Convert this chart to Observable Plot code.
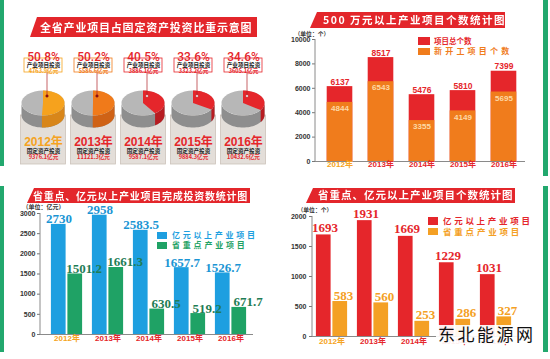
<!DOCTYPE html>
<html><head><meta charset="utf-8">
<script src="https://cdn.jsdelivr.net/npm/d3@7"></script>
<script src="https://cdn.jsdelivr.net/npm/@observablehq/plot@0.6"></script>
<style>
html,body{margin:0;padding:0;background:#fff;}
#root{position:relative;width:550px;height:359px;overflow:hidden;background:#fff;font-family:"Noto Sans CJK SC","Liberation Sans",sans-serif;}
.panel{position:absolute;}
.panel svg{display:block;overflow:visible;}
.banner{position:absolute;background:#e3262b;color:#fff;font-weight:bold;white-space:nowrap;display:flex;align-items:center;box-sizing:border-box;line-height:1;}
.lg{position:absolute;font-weight:bold;white-space:nowrap;line-height:1;}
.sw{position:absolute;}
.stripe{position:absolute;background:#22a86e;}
#wm{position:absolute;left:436px;top:325px;font-size:17px;letter-spacing:2.5px;color:#111;background:rgba(255,255,255,0.92);padding:0 2px;line-height:1.1;font-family:"Noto Sans CJK SC",sans-serif;}
</style></head><body><div id="root"></div>
<script>
// ---------- data ----------
const years = ["2012","2013","2014","2015","2016"];
const shares = [50.8, 50.2, 40.5, 33.6, 34.6];
const industryInvest = ["4763.9","5586.6","3886.1","3323.2","3605.1"];
const fixedInvest = ["9376.1","11121.3","9587.1","9884.3","10432.6"];
const totalProjects = [6137, 8517, 5476, 5810, 7399];
const newProjects = [4844, 6543, 3355, 4149, 5695];
const investBig = [2730, 2958, 2583.5, 1657.7, 1526.7];
const investKey = [1501.2, 1661.3, 630.5, 519.2, 671.7];
const countBig = [1693, 1931, 1669, 1229, 1031];
const countKey = [583, 560, 253, 286, 327];
const ticks2 = [0, 2000, 4000, 6000, 8000, 10000];
const ticks3 = [0, 500, 1000, 1500, 2000, 2500, 3000];
const ticks4 = [0, 500, 1000, 1500, 2000];

// ---------- style ----------
const RED = "#e5262b", ORANGE = "#f07c1c", YEL = "#f5a322", BLUE = "#1e9fe0", GREEN = "#1fa265", ORANGE4 = "#f4a024";
const sliceColors = ["#f6a21d", "#f07a1a", RED, RED, RED];
const sideColors = ["#d8861a", "#cf6216", "#b71c21", "#b71c21", "#b71c21"];
const yearColor = y => y === "2012" ? YEL : RED;
const NUM = "Liberation Sans, Noto Sans CJK SC, sans-serif";
const CJK = "Noto Sans CJK SC, sans-serif";
const SERIF = "Liberation Serif, DejaVu Serif, serif";

const root = document.getElementById("root");
function add(el, left, top) { const w = document.createElement("div"); w.className = "panel"; w.style.left = left + "px"; w.style.top = top + "px"; w.appendChild(el); root.appendChild(w); }
function div(cls, css, html) { const d = document.createElement("div"); d.className = cls; Object.assign(d.style, css); if (html != null) d.textContent = html; root.appendChild(d); return d; }
function axisLine(index, scales, values, dims) {
  return d3.create("svg:line").attr("x1", dims.marginLeft).attr("x2", dims.marginLeft)
    .attr("y1", dims.marginTop).attr("y2", dims.height - dims.marginBottom)
    .attr("stroke", "#8a8a8a").attr("stroke-width", 1).node();
}

// ---------- panel 1: pies ----------
const pieRows = years.map((y, i) => ({year: y, share: shares[i], invest: industryInvest[i], fixed: fixedInvest[i], color: sliceColors[i], side: sideColors[i]}));
function pies(index, scales, values, dims) {
  const x = scales.x;
  const bw = x.bandwidth ? x.bandwidth() : 0;
  const g = d3.create("svg:g");
  for (const d of pieRows) {
    const cx = x(d.year) + bw / 2, cy = 103, rx = 21.5, ry = 12.5, depth = 12;
    const P = (a, dy = 0) => [cx + rx * Math.sin(a), cy - ry * Math.cos(a) + dy];
    const arcPts = (a0, a1, dy = 0) => { const n = 40, pts = []; for (let k = 0; k <= n; k++) pts.push(P(a0 + (a1 - a0) * k / n, dy)); return pts; };
    const side = (a0, a1) => "M" + arcPts(a0, a1).concat(arcPts(a1, a0, depth)).map(p => p.join(",")).join("L") + "Z";
    const theta = d.share / 100 * 2 * Math.PI;
    g.append("rect").attr("x", cx - 22.5).attr("y", 115).attr("width", 45).attr("height", 49)
      .attr("fill", "#e3ded9").attr("stroke", "#cbc2ba").attr("stroke-width", 0.8);
    g.append("path").attr("d", side(Math.PI / 2, 3 * Math.PI / 2)).attr("fill", "#8e8e8e");
    if (theta > Math.PI / 2) g.append("path").attr("d", side(Math.PI / 2, Math.min(theta, 3 * Math.PI / 2))).attr("fill", d.side);
    g.append("ellipse").attr("cx", cx).attr("cy", cy).attr("rx", rx).attr("ry", ry).attr("fill", "#b7b7b7");
    g.append("path").attr("d", "M" + cx + "," + cy + "L" + arcPts(0, theta).map(p => p.join(",")).join("L") + "Z").attr("fill", d.color);
    const lx = cx + 4;
    g.append("line").attr("x1", lx).attr("x2", lx).attr("y1", 72).attr("y2", 96).attr("stroke", "#b02025").attr("stroke-width", 0.7);
    g.append("circle").attr("cx", lx).attr("cy", 96).attr("r", 1.3).attr("fill", d.share > 45 ? "#8a1010" : "#fff").attr("stroke", "#8a1010").attr("stroke-width", 0.4);
    g.append("rect").attr("x", cx - 19).attr("y", 58).attr("width", 38).attr("height", 14)
      .attr("fill", "#fff").attr("stroke", d.color).attr("stroke-width", 0.8);
  }
  return g.node();
}
const p1 = Plot.plot({
  width: 275, height: 180, margin: 0,
  x: {type: "band", domain: years, range: [18, 268], padding: 0, axis: null},
  style: {background: "transparent", overflow: "visible"},
  marks: [
    pies,
    Plot.text(pieRows, {x: "year", frameAnchor: "top", dy: 52, text: d => d.share.toFixed(1) + "%", fill: RED, fontSize: 12, fontWeight: 500, fontFamily: "Roboto, Liberation Sans, sans-serif"}),
    Plot.text(pieRows, {x: "year", frameAnchor: "top", dy: 62.5, text: () => "产业项目投资", fill: "#222", fontSize: 5.6, fontWeight: "bold", fontFamily: CJK}),
    Plot.text(pieRows, {x: "year", frameAnchor: "top", dy: 68.3, text: d => d.invest + "亿元", fill: d => d.color, fontSize: 5.6, fontWeight: "bold", fontFamily: CJK}),
    Plot.text(pieRows, {x: "year", frameAnchor: "top", dy: 136.5, text: d => d.year + "年", fill: d => yearColor(d.year), fontSize: 12, fontWeight: "bold", fontFamily: NUM}),
    Plot.text(pieRows, {x: "year", frameAnchor: "top", dy: 148.5, text: () => "固定资产投资", fill: "#222", fontSize: 5.6, fontWeight: "bold", fontFamily: CJK}),
    Plot.text(pieRows, {x: "year", frameAnchor: "top", dy: 155, text: d => d.fixed + "亿元", fill: RED, fontSize: 5.6, fontWeight: "bold", fontFamily: CJK})
  ]
});
add(p1, 0, 0);

// ---------- panel 2: project counts ----------
const rows2 = years.map((y, i) => ({year: y, total: totalProjects[i], fresh: newProjects[i]}));
const p2 = Plot.plot({
  width: 275, height: 180, marginLeft: 40, marginTop: 39, marginBottom: 19, marginRight: 25,
  x: {type: "band", domain: years, range: [43, 250], padding: 0, axis: null},
  y: {domain: [0, 10000], axis: null},
  style: {background: "transparent", overflow: "visible"},
  marks: [
    Plot.axisY({ticks: ticks2, tickSize: 3, tickPadding: 2, fontSize: 7, fontWeight: "bold", fill: "#333", stroke: "#777", label: null, tickFormat: d => String(d), fontFamily: NUM}),
    Plot.barY(rows2, {x: "year", y: "total", fill: RED, insetLeft: 7.7, insetRight: 7.7}),
    Plot.barY(rows2, {x: "year", y: "fresh", fill: ORANGE, insetLeft: 7.7, insetRight: 7.7}),
    axisLine,
    Plot.ruleY([0], {stroke: "#8a8a8a"}),
    Plot.text(rows2, {x: "year", y: "total", text: d => String(d.total), lineAnchor: "bottom", dy: -2, fill: RED, fontSize: 8.5, fontWeight: "bold", fontFamily: NUM}),
    Plot.text(rows2, {x: "year", y: "fresh", text: d => String(d.fresh), lineAnchor: "top", dy: 3, fill: "#fdd9a6", fontSize: 8, fontWeight: "bold", fontFamily: NUM}),
    Plot.text(rows2, {x: "year", frameAnchor: "bottom", dy: 5, text: d => d.year + "年", fill: d => yearColor(d.year), fontSize: 8, fontWeight: "bold", fontFamily: NUM}),
    Plot.text(["（单位：个）"], {frameAnchor: "top-left", dx: -21, dy: -8, text: d => d, textAnchor: "start", fontSize: 5.8, fontWeight: "bold", fill: "#333", fontFamily: CJK})
  ]
});
add(p2, 275, 0);

// ---------- panel 3: investment ----------
const rows3 = years.map((y, i) => ({year: y, big: investBig[i], key: investKey[i]}));
const p3 = Plot.plot({
  width: 275, height: 179, marginLeft: 40, marginTop: 33, marginBottom: 25, marginRight: 22,
  x: {type: "band", domain: years, range: [44, 253], padding: 0, axis: null},
  y: {domain: [0, 3000], axis: null},
  style: {background: "transparent", overflow: "visible"},
  marks: [
    Plot.axisY({ticks: ticks3, tickSize: 3, tickPadding: 2, fontSize: 7, fontWeight: "bold", fill: "#333", stroke: "#777", label: null, tickFormat: d => String(d), fontFamily: NUM}),
    Plot.barY(rows3, {x: "year", y: "big", fill: BLUE, insetLeft: 4.9, insetRight: 21.4}),
    Plot.barY(rows3, {x: "year", y: "key", fill: GREEN, insetLeft: 21.4, insetRight: 4.9}),
    axisLine,
    Plot.ruleY([0], {stroke: "#8a8a8a"}),
    Plot.text(rows3, {x: "year", y: "big", text: d => String(d.big), dx: -8, lineAnchor: "bottom", dy: -1, fill: "#1b95d4", fontSize: 13, fontWeight: "bold", fontFamily: SERIF, letterSpacing: 0.8}),
    Plot.text(rows3, {x: "year", y: "key", text: d => String(d.key), dx: 17, lineAnchor: "bottom", dy: -1, fill: "#1f7d56", fontSize: 13, fontWeight: "bold", fontFamily: SERIF, letterSpacing: 0.8}),
    Plot.text(rows3, {x: "year", frameAnchor: "bottom", dy: 6, text: d => d.year + "年", fill: d => yearColor(d.year), fontSize: 8, fontWeight: "bold", fontFamily: NUM}),
    Plot.text(["（单位：亿元）"], {frameAnchor: "top-left", dx: -18, dy: -9, text: d => d, textAnchor: "start", fontSize: 6, fontWeight: "bold", fill: "#333", fontFamily: CJK})
  ]
});
add(p3, 0, 180);

// ---------- panel 4: project numbers ----------
const rows4 = years.map((y, i) => ({year: y, big: countBig[i], key: countKey[i]}));
const p4 = Plot.plot({
  width: 275, height: 179, marginLeft: 37, marginTop: 36, marginBottom: 23, marginRight: 28,
  x: {type: "band", domain: years, range: [34, 243], padding: 0, axis: null},
  y: {domain: [0, 2000], axis: null},
  style: {background: "transparent", overflow: "visible"},
  marks: [
    Plot.axisY({ticks: ticks4, tickSize: 3, tickPadding: 3, fontSize: 7, fontWeight: "bold", fill: "#333", stroke: "#777", label: null, tickFormat: d => String(d), fontFamily: NUM}),
    Plot.barY(rows4, {x: "year", y: "big", fill: RED, insetLeft: 4.9, insetRight: 21.4}),
    Plot.barY(rows4, {x: "year", y: "key", fill: ORANGE4, insetLeft: 21.4, insetRight: 4.9}),
    axisLine,
    Plot.ruleY([0], {stroke: "#8a8a8a"}),
    Plot.text(rows4, {x: "year", y: "big", text: d => String(d.big), dx: -7, lineAnchor: "bottom", dy: -3, fill: RED, fontSize: 13, fontWeight: "bold", fontFamily: SERIF, letterSpacing: 0.8}),
    Plot.text(rows4, {x: "year", y: "key", text: d => String(d.key), dx: 11.5, lineAnchor: "bottom", dy: -2, fill: ORANGE4, fontSize: 13, fontWeight: "bold", fontFamily: SERIF, letterSpacing: 0.8}),
    Plot.text(rows4, {x: "year", frameAnchor: "bottom", dy: 7, text: d => d.year + "年", fill: d => yearColor(d.year), fontSize: 8, fontWeight: "bold", fontFamily: NUM}),
    Plot.text(["（单位：个）"], {frameAnchor: "top-left", dx: -15, dy: -8.5, text: d => d, textAnchor: "start", fontSize: 5.8, fontWeight: "bold", fill: "#333", fontFamily: CJK})
  ]
});
add(p4, 275, 180);

// ---------- banners, legends, decorations ----------
function banner(text, left, top, width, height, size, ls, pad) {
  div("banner", {left: left + "px", top: top + "px", width: width + "px", height: height + "px", fontSize: size + "px", letterSpacing: ls + "px", paddingLeft: pad + "px",
    clipPath: "polygon(7px 0, 100% 0, 100% 100%, 0 100%)", filter: "drop-shadow(1px 1px 0 rgba(0,0,0,.25))"}, text);
}
banner("全省产业项目占固定资产投资比重示意图", 30, 17, 227, 20, 11, 0.8, 10);
banner("500 万元以上产业项目个数统计图", 310, 12, 195, 16, 10.5, 1.5, 13);
banner("省重点、亿元以上产业项目完成投资数统计图", 27, 188, 223, 15, 10, 0.75, 6);
banner("省重点、亿元以上产业项目个数统计图", 306, 188, 209, 15, 10.5, 1, 12);

function legend(left, top, w, h, color, text, textLeft, size, ls) {
  div("sw", {left: left + "px", top: top + "px", width: w + "px", height: h + "px", background: color});
  div("lg", {left: textLeft + "px", top: (top + h / 2 - size * 0.55) + "px", fontSize: size + "px", letterSpacing: ls + "px", color: color}, text);
}
legend(418, 37, 12, 8, RED, "项目总个数", 434, 7.5, 0);
legend(418, 48, 12, 7, ORANGE, "新开工项目个数", 434, 8, 3.2);
legend(157, 232, 10, 6.5, BLUE, "亿元以上产业项目", 172, 8, 2.7);
legend(157, 242, 10, 6.5, GREEN, "省重点产业项目", 172, 8, 2.8);
legend(428, 217, 10, 8, RED, "亿元以上产业项目", 443, 8.5, 2.7);
legend(428, 228, 10, 7, ORANGE4, "省重点产业项目", 443, 8.5, 2.8);

div("stripe", {left: "0px", top: "0px", width: "4px", height: "166px"});
div("stripe", {left: "0px", top: "186px", width: "4px", height: "166px"});
div("stripe", {left: "543px", top: "0px", width: "5px", height: "176px"});
div("stripe", {left: "543px", top: "186px", width: "5px", height: "166px"});
const wm = document.createElement("div"); wm.id = "wm"; wm.textContent = "东北能源网"; root.appendChild(wm);
</script></body></html>
